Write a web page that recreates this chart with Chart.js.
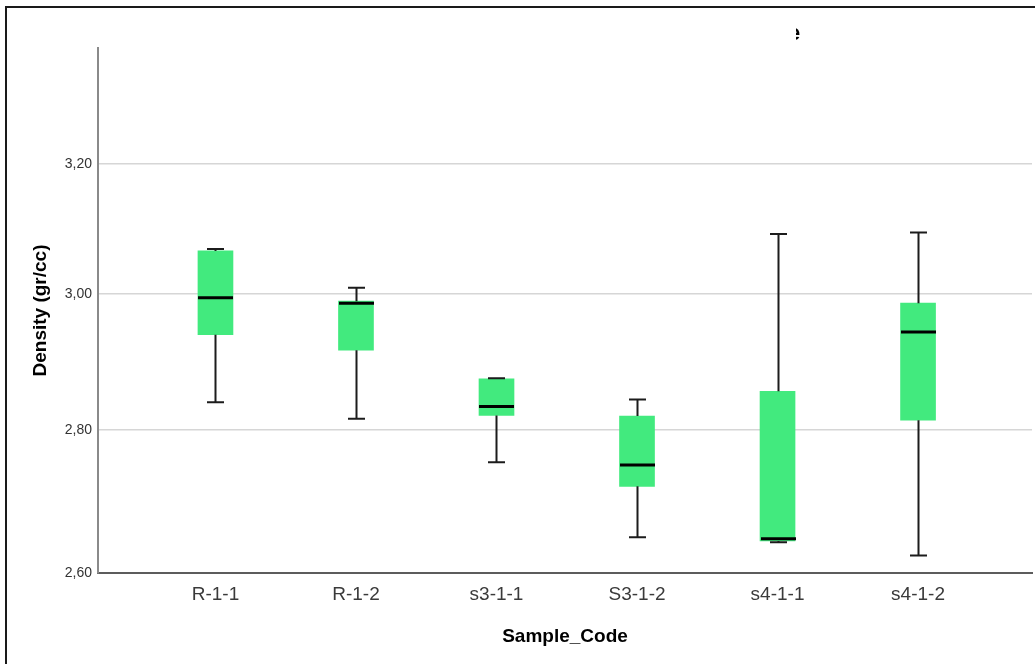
<!DOCTYPE html>
<html>
<head>
<meta charset="utf-8">
<script src="https://cdn.jsdelivr.net/npm/chart.js@4.4.1/dist/chart.umd.min.js"></script>
<style>
  html, body { margin: 0; padding: 0; background: #fff; }
  #wrap { position: relative; width: 1035px; height: 664px; overflow: hidden; }
  #frame {
    position: absolute; left: 5px; top: 6px; width: 1040px; height: 670px;
    border-top: 2px solid #1a1a1a; border-left: 2px solid #1a1a1a;
    pointer-events: none;
  }
  #chart { position: absolute; left: 0; top: 0; }
  #cut { position: absolute; left: 796px; top: 20px; width: 5px; height: 26px; overflow: hidden; }
  #cut span { position: absolute; left: -8px; top: 0; font: bold 22px "Liberation Sans", Arial, sans-serif; color: #000; }
</style>
</head>
<body>
<div id="wrap">
  <canvas id="chart" width="1035" height="664"></canvas>
  <div id="frame"></div>
  <div id="cut"><span>e</span></div>
</div>
<script>
// datos
const categorias = ["R-1-1", "R-1-2", "s3-1-1", "S3-1-2", "s4-1-1", "s4-1-2"];
const minimos = [2.840, 2.816, 2.754, 2.649, 2.642, 2.624];
const q1 = [2.939, 2.916, 2.821, 2.720, 2.644, 2.814];
const medianas = [2.994, 2.986, 2.834, 2.750, 2.647, 2.943];
const q3 = [3.065, 2.989, 2.874, 2.820, 2.856, 2.986];
const maximos = [3.068, 3.009, 2.875, 2.844, 3.091, 3.093];
const yTicks = [2.6, 2.8, 3.0, 3.2];
const yTickLabels = ["2,60", "2,80", "3,00", "3,20"];

const FONT = "'Liberation Sans', Arial, sans-serif";
const VERDE = "#42ea7e";

// el eje original no es del todo lineal: las divisiones se abren hacia abajo
const warp = (v) => Math.log(v + 1.3);

class WarpScale extends Chart.LinearScale {
  getPixelForValue(value) {
    if (value === null || value === undefined) return NaN;
    const a = warp(this.min);
    const b = warp(this.max);
    return this.getPixelForDecimal((warp(value) - a) / (b - a));
  }
  getValueForPixel(pixel) {
    const a = warp(this.min);
    const b = warp(this.max);
    return Math.exp(a + this.getDecimalForPixel(pixel) * (b - a)) - 1.3;
  }
}
WarpScale.id = "warp";
WarpScale.defaults = Chart.LinearScale.defaults;
Chart.register(WarpScale);

// bigotes, tapas y mediana
const bigotes = {
  id: "bigotes",
  afterDatasetsDraw(chart) {
    const { ctx, scales } = chart;
    const x = scales.x;
    const y = scales.y;
    ctx.save();
    categorias.forEach((_, i) => {
      const cx = Math.round(x.getPixelForValue(i)) + 0.5;
      const yMin = y.getPixelForValue(minimos[i]);
      const yQ1 = y.getPixelForValue(q1[i]);
      const yQ3 = y.getPixelForValue(q3[i]);
      const yMax = y.getPixelForValue(maximos[i]);
      const yMed = y.getPixelForValue(medianas[i]);

      ctx.strokeStyle = "#1c1c1c";
      ctx.lineWidth = 2;
      ctx.beginPath();
      ctx.moveTo(cx, yQ3);
      ctx.lineTo(cx, yMax);
      ctx.moveTo(cx, yQ1);
      ctx.lineTo(cx, yMin);
      ctx.moveTo(cx - 8.5, yMax);
      ctx.lineTo(cx + 8.5, yMax);
      ctx.moveTo(cx - 8.5, yMin);
      ctx.lineTo(cx + 8.5, yMin);
      ctx.stroke();

      ctx.strokeStyle = "#000";
      ctx.lineWidth = 3;
      ctx.beginPath();
      ctx.moveTo(cx - 17.5, yMed);
      ctx.lineTo(cx + 17.5, yMed);
      ctx.stroke();
    });
    ctx.restore();
  }
};

new Chart(document.getElementById("chart").getContext("2d"), {
  type: "bar",
  data: {
    datasets: [
      {
        label: "Density",
        data: categorias.map((c, i) => ({ x: i, y: [q1[i], q3[i]] })),
        backgroundColor: VERDE,
        borderWidth: 0,
        barThickness: 35
      }
    ]
  },
  options: {
    responsive: false,
    animation: false,
    layout: { padding: { top: 48, right: 3, bottom: 0, left: 0 } },
    plugins: {
      legend: { display: false },
      tooltip: { enabled: false }
    },
    scales: {
      x: {
        type: "linear",
        min: -0.836,
        max: 5.811,
        offset: false,
        afterBuildTicks: (scale) => {
          scale.ticks = categorias.map((_, i) => ({ value: i }));
        },
        afterFit: (scale) => { scale.height = 91; },
        grid: { display: false, offset: false, drawTicks: false },
        border: { display: true, color: "#5c5c5c", width: 2 },
        ticks: {
          autoSkip: false,
          maxRotation: 0,
          padding: 10,
          color: "#3a3a3a",
          font: { family: FONT, size: 19 },
          callback: (v) => categorias[v] ?? ""
        },
        title: {
          display: true,
          text: "Sample_Code",
          color: "#000",
          font: { family: FONT, size: 19, weight: "bold" },
          padding: { top: 0, bottom: 16 }
        }
      },
      y: {
        type: "warp",
        min: 2.6,
        max: 3.386,
        afterBuildTicks: (scale) => {
          scale.ticks = yTicks.map((v) => ({ value: v }));
        },
        afterFit: (scale) => { scale.width = 98; },
        grid: { color: "#d6d6d6", lineWidth: 1.6, drawTicks: false },
        border: { display: true, color: "#8a8a8a", width: 2 },
        ticks: {
          padding: 6,
          color: "#333",
          font: { family: FONT, size: 14 },
          callback: (v, i) => yTickLabels[i]
        },
        title: {
          display: true,
          text: "Density (gr/cc)",
          color: "#000",
          font: { family: FONT, size: 19, weight: "bold" },
          padding: { top: 29, bottom: 0 }
        }
      }
    }
  },
  plugins: [bigotes]
});
</script>
</body>
</html>
